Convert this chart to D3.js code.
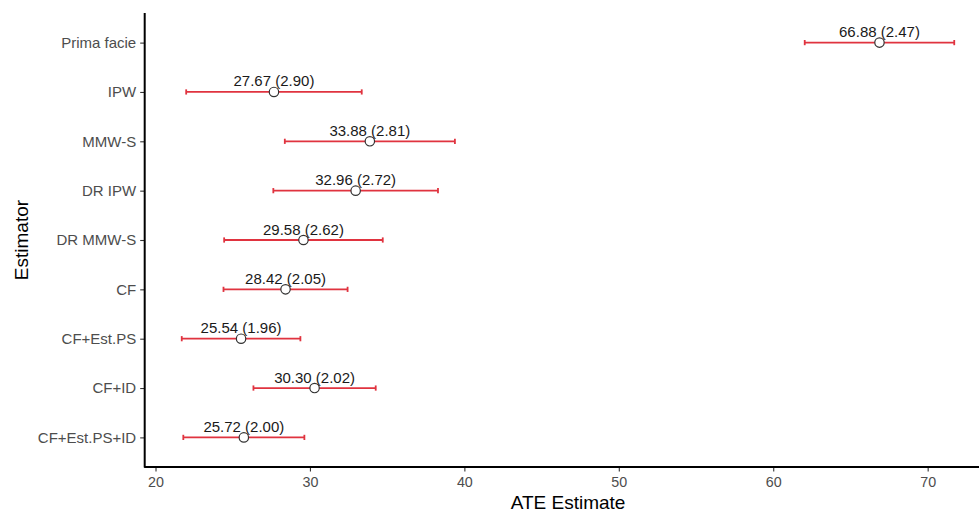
<!DOCTYPE html>
<html>
<head>
<meta charset="utf-8">
<script src="https://cdn.jsdelivr.net/npm/d3@7"></script>
<style>
  html, body { margin: 0; padding: 0; background: #fff; }
  svg { display: block; font-family: "Liberation Sans", Arial, sans-serif; }
</style>
</head>
<body>
<script>
const estimators = ["Prima facie", "IPW", "MMW-S", "DR IPW", "DR MMW-S", "CF", "CF+Est.PS", "CF+ID", "CF+Est.PS+ID"];
const estimates = [66.88, 27.67, 33.88, 32.96, 29.58, 28.42, 25.54, 30.30, 25.72];
const stdErrors = [2.47, 2.90, 2.81, 2.72, 2.62, 2.05, 1.96, 2.02, 2.00];
const xTicks = [20, 30, 40, 50, 60, 70];

const rows = estimators.map((name, i) => ({
  name, est: estimates[i], se: stdErrors[i],
  lo: estimates[i] - 1.96 * stdErrors[i],
  hi: estimates[i] + 1.96 * stdErrors[i]
}));

const W = 979, H = 512;
const pLeft = 144.7, pRight = 979.4, pTop = 13, pBottom = 467;

const svg = d3.select("body").append("svg").attr("width", W).attr("height", H);

const x = d3.scaleLinear().domain([19.3, 73.35]).range([pLeft, pRight]);
const y = d3.scalePoint().domain(estimators).range([pTop, pBottom]).padding(0.6);

const red = "#e0333f";
// error bars
const eb = svg.append("g");
eb.selectAll("line.bar").data(rows).join("line").attr("class", "bar")
  .attr("x1", d => x(d.lo)).attr("x2", d => x(d.hi))
  .attr("y1", d => y(d.name)).attr("y2", d => y(d.name))
  .attr("stroke", red).attr("stroke-width", 1.8);
eb.selectAll("line.capL").data(rows).join("line").attr("class", "capL")
  .attr("x1", d => x(d.lo)).attr("x2", d => x(d.lo))
  .attr("y1", d => y(d.name) - 2.6).attr("y2", d => y(d.name) + 2.6)
  .attr("stroke", red).attr("stroke-width", 1.8);
eb.selectAll("line.capR").data(rows).join("line").attr("class", "capR")
  .attr("x1", d => x(d.hi)).attr("x2", d => x(d.hi))
  .attr("y1", d => y(d.name) - 2.6).attr("y2", d => y(d.name) + 2.6)
  .attr("stroke", red).attr("stroke-width", 1.8);

// points
svg.append("g").selectAll("circle").data(rows).join("circle")
  .attr("cx", d => x(d.est)).attr("cy", d => y(d.name)).attr("r", 4.7)
  .attr("fill", "#fff").attr("stroke", "#333").attr("stroke-width", 1.2);

// labels
svg.append("g").selectAll("text").data(rows).join("text")
  .attr("x", d => x(d.est)).attr("y", d => y(d.name) - 5.5)
  .attr("text-anchor", "middle").attr("font-size", "15px").attr("fill", "#1a1a1a")
  .text(d => `${d.est.toFixed(2)} (${d.se.toFixed(2)})`);

// x axis
const xAxis = svg.append("g").attr("transform", `translate(0,${pBottom})`)
  .call(d3.axisBottom(x).tickValues(xTicks).tickSize(4.5).tickPadding(5).tickFormat(d3.format("d")));
xAxis.select(".domain").remove();
xAxis.selectAll(".tick line").attr("stroke", "#333").attr("stroke-width", 1.1);
xAxis.selectAll(".tick text").attr("fill", "#4d4d4d").attr("font-size", "14.3px").attr("font-family", "Liberation Sans, Arial, sans-serif");

// y axis
const yAxis = svg.append("g").attr("transform", `translate(${pLeft},0)`)
  .call(d3.axisLeft(y).tickSize(4.5).tickPadding(4));
yAxis.select(".domain").remove();
yAxis.selectAll(".tick line").attr("stroke", "#333").attr("stroke-width", 1.1);
yAxis.selectAll(".tick text").attr("fill", "#4d4d4d").attr("font-size", "15px").attr("font-family", "Liberation Sans, Arial, sans-serif");

// axis lines
svg.append("line").attr("x1", pLeft).attr("x2", pLeft).attr("y1", pTop).attr("y2", pBottom + 0.5)
  .attr("stroke", "#000").attr("stroke-width", 2);
svg.append("line").attr("x1", pLeft - 0.5).attr("x2", W).attr("y1", pBottom).attr("y2", pBottom)
  .attr("stroke", "#000").attr("stroke-width", 2);

// titles
svg.append("text").attr("x", (pLeft + pRight) / 2 + 6).attr("y", 509)
  .attr("text-anchor", "middle").attr("font-size", "19px").attr("fill", "#000")
  .text("ATE Estimate");
svg.append("text").attr("transform", `translate(28,${(pTop + pBottom) / 2}) rotate(-90)`)
  .attr("text-anchor", "middle").attr("font-size", "19px").attr("fill", "#000")
  .text("Estimator");
</script>
</body>
</html>
